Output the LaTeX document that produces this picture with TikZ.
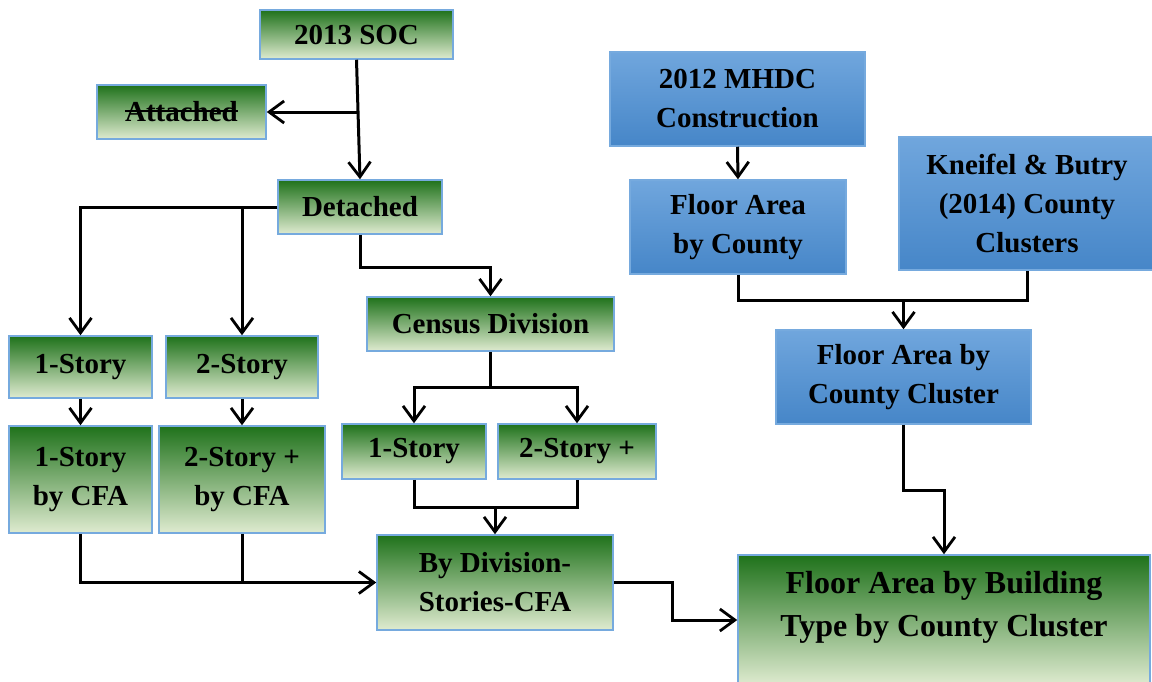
\documentclass[tikz,border=0pt]{standalone}
\usepackage{fontspec}
\setmainfont{Liberation Serif}
\usetikzlibrary{arrows.meta,calc}
\definecolor{gtop}{RGB}{31,114,27}
\definecolor{gmid}{RGB}{155,187,112}
\definecolor{gbot}{RGB}{223,235,208}
\definecolor{btop}{RGB}{112,166,221}
\definecolor{bmid}{RGB}{88,154,215}
\definecolor{bbot}{RGB}{70,134,200}
\definecolor{bord}{RGB}{118,170,222}
\newcommand\strikeword[1]{\setbox0\hbox{#1}\rlap{\copy0}\rule[10pt]{\wd0}{2.4pt}}
\tikzset{
  box/.style={draw=bord, line width=1.5pt, inner sep=0pt, align=center,
    font=\bfseries\fontsize{29}{39}\selectfont},
  gbox/.style={box, top color=gtop, middle color=gmid, bottom color=gbot},
  bbox/.style={box, top color=btop, middle color=bmid, bottom color=bbot},
  conn/.style={line width=3pt, black},
  arr/.style={conn, -{Straight Barb[length=15pt,width=22pt,line width=2.8pt]}},
}
\begin{document}
\begin{tikzpicture}[x=1pt,y=-1pt]
\useasboundingbox (0,0) rectangle (1152,681);
\clip (0,0) rectangle (1152,681);
% green boxes
\node[gbox, minimum width=193, minimum height=49] (soc) at (356.5,34.5) {2013 SOC};
\node[gbox, minimum width=169, minimum height=54] (att) at (181.5,112) {\strikeword{Attached}};
\node[gbox, minimum width=164, minimum height=54] (det) at (360,207) {Detached};
\node[gbox, minimum width=143, minimum height=62] (s1) at (80.5,367) {1-Story};
\node[gbox, minimum width=152, minimum height=62] (s2) at (242,367) {2-Story};
\node[gbox, minimum width=143, minimum height=107] (c1) at (80.5,479.5) {1-Story\\by CFA};
\node[gbox, minimum width=166, minimum height=107] (c2) at (242,479.5) {2-Story +\\by CFA};
\node[gbox, minimum width=247, minimum height=54] (cen) at (490.5,324) {Census Division};
\node[gbox, minimum width=144, minimum height=55] (m1) at (414,451.5) {1-Story};
\node[gbox, minimum width=158, minimum height=55] (m2) at (577,451.5) {2-Story +};
\node[gbox, minimum width=236, minimum height=95] (div) at (495,582.5) {By Division-\\Stories-CFA};
\node[gbox, minimum width=412, minimum height=130] (big) at (944,620) {};
\node[align=center, font=\bfseries\fontsize{32}{43}\selectfont] (bigtext) at (944,607) {Floor Area by Building\\Type by County Cluster};
% blue boxes
\node[bbox, minimum width=255, minimum height=94] (mhdc) at (737.5,99) {2012 MHDC\\Construction};
\node[bbox, minimum width=216, minimum height=94] (fac) at (738,227) {Floor Area\\by County};
\node[bbox, minimum width=256, minimum height=133] (kb) at (1027,203.5) {Kneifel \& Butry\\(2014) County\\Clusters};
\node[bbox, minimum width=255, minimum height=94] (fcc) at (903.5,377) {Floor Area by\\County Cluster};
% junction coordinates
\coordinate (j1) at (360,267);
\coordinate (j2) at (490.5,387);
\coordinate (j3) at (495,507);
\coordinate (j4) at (672,600);
\coordinate (j5) at (903.5,300);
\coordinate (j6) at (903.5,490);
% connectors
\draw[arr] (soc.south) -- (det.north);
\draw[arr] (soc.south |- att.east) -- (att.east);
\draw[arr] (det.west) -| (s1.north);
\draw[arr] (det.west -| s2.north) -- (s2.north);
\draw[arr] (det.south) -- (j1) -| (cen.north);
\draw[arr] (s1.south) -- (c1.north);
\draw[arr] (s2.south) -- (c2.north);
\draw[conn] (cen.south) -- (j2);
\draw[arr] (j2) -| (m1.north);
\draw[arr] (j2) -| (m2.north);
\draw[conn] (m1.south) -- (m1.south |- j3) -- (m2.south |- j3) -- (m2.south);
\draw[arr] (j3) -- (div.north);
\draw[arr] (c1.south) |- (div.west);
\draw[conn] (c2.south) -- (c2.south |- div.west);
\draw[arr] (div.east) -- (div.east -| j4) -- (j4 |- big.west) -- (big.west);
\draw[arr] (mhdc.south) -- (fac.north);
\draw[conn] (fac.south) |- (j5);
\draw[conn] (kb.south) |- (j5);
\draw[arr] (j5) -- (fcc.north);
\draw[arr] (fcc.south) -- (j6) -| (big.north);
\end{tikzpicture}
\end{document}
